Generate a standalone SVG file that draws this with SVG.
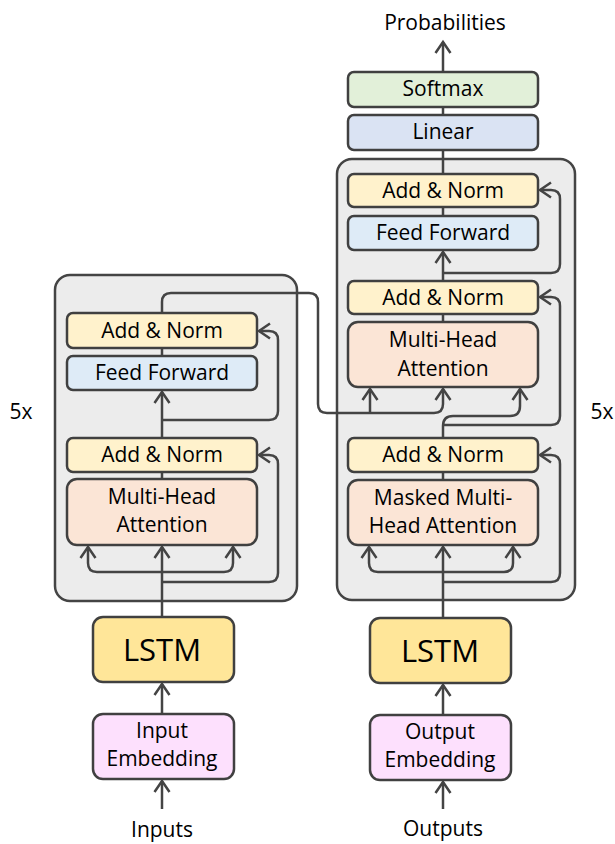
<svg xmlns="http://www.w3.org/2000/svg" width="615" height="844" viewBox="0 0 615 844">
<defs>
<style>
text{font-family:"Open Sans","Liberation Sans",sans-serif;font-size:21px;fill:#000;text-anchor:middle}
.big{font-size:31px}
.stack{fill:#ececec;stroke:#444;stroke-width:2.5}
.n{stroke:#404040;stroke-width:2.5}
.an{fill:#fff2cc}
.ff{fill:#deebf7}
.mha{fill:#fbe5d6}
.sm{fill:#e2f0d9}
.lin{fill:#dae3f3}
.lstm{fill:#ffe699}
.emb{fill:#fde0fd}
.c{fill:none;stroke:#444;stroke-width:2.5}
.a{marker-end:url(#ah)}
</style>
<marker id="ah" markerUnits="userSpaceOnUse" markerWidth="20" markerHeight="20" viewBox="-13 -10 15 20" refX="0" refY="0" orient="auto">
<path d="M-11,-7.5 L0,0 L-11,7.5" fill="none" stroke="#444" stroke-width="2.5" stroke-linejoin="miter"/>
</marker>
</defs>

<g id="encoder-stack"><rect class="stack" x="55" y="275" width="242" height="326" rx="15"/></g>
<g id="decoder-stack"><rect class="stack" x="337" y="159" width="238" height="441" rx="15"/></g>

<g id="connectors">
<!-- encoder -->
<path class="c a" d="M162,809 V781"/>
<path class="c a" d="M162,714 V684"/>
<path class="c a" d="M162,617 V547"/>
<path class="c a" d="M162,572 H97 Q88,572 88,563 V547"/>
<path class="c a" d="M162,572 H224 Q233,572 233,563 V547"/>
<path class="c a" d="M162,582 H269 Q278,582 278,573 V464 Q278,455 269,455 H259"/>
<path class="c" d="M162,479 V472"/>
<path class="c a" d="M162,438 V392"/>
<path class="c a" d="M162,420 H269 Q278,420 278,411 V340 Q278,331 269,331 H259"/>
<path class="c" d="M162,356 V348"/>
<path class="c a" d="M162,313 V302 Q162,293 171,293 H309 Q318,293 318,302 V404 Q318,413 327,413 H434 Q443,413 443,404 V389"/>
<path class="c a" d="M370,413 V389"/>
<!-- decoder -->
<path class="c a" d="M443,809 V782"/>
<path class="c a" d="M443,715 V685"/>
<path class="c a" d="M443,618 V547"/>
<path class="c a" d="M443,572 H378 Q369,572 369,563 V547"/>
<path class="c a" d="M443,572 H504 Q513,572 513,563 V547"/>
<path class="c a" d="M443,582 H551 Q560,582 560,573 V464 Q560,455 551,455 H540"/>
<path class="c" d="M443,480 V472"/>
<path class="c a" d="M443,438 V426 Q443,416 453,416 H510 Q520,416 520,406 V389"/>
<path class="c a" d="M443,425 H551 Q560,425 560,416 V306 Q560,297 551,297 H540"/>
<path class="c" d="M443,322 V314"/>
<path class="c a" d="M443,281 V252"/>
<path class="c a" d="M443,273 H551 Q560,273 560,264 V199 Q560,190 551,190 H540"/>
<path class="c" d="M443,216 V207"/>
<path class="c" d="M443,174 V150"/>
<path class="c" d="M443,115 V107"/>
<path class="c a" d="M443,72 V42"/>
</g>

<g id="enc-addnorm2"><rect class="n an" x="67" y="313" width="190" height="35" rx="6"/><text x="162" y="338">Add &amp; Norm</text></g>
<g id="enc-ff"><rect class="n ff" x="67" y="356" width="190" height="34" rx="6"/><text x="162" y="380">Feed Forward</text></g>
<g id="enc-addnorm1"><rect class="n an" x="67" y="438" width="190" height="34" rx="6"/><text x="162" y="462">Add &amp; Norm</text></g>
<g id="enc-mha"><rect class="n mha" x="67" y="479" width="190" height="66" rx="10"/><text x="162" y="504">Multi-Head</text><text x="162" y="532">Attention</text></g>
<g id="enc-lstm"><rect class="n lstm" x="93" y="617" width="141" height="65" rx="10"/><text class="big" x="162" y="661">LSTM</text></g>
<g id="enc-emb"><rect class="n emb" x="93" y="714" width="141" height="65" rx="10"/><text x="162" y="738">Input</text><text x="162" y="766">Embedding</text></g>
<g id="inputs"><text x="162" y="837">Inputs</text></g>

<g id="dec-addnorm3"><rect class="n an" x="348" y="174" width="190" height="33" rx="6"/><text x="443" y="198">Add &amp; Norm</text></g>
<g id="dec-ff"><rect class="n ff" x="348" y="216" width="190" height="34" rx="6"/><text x="443" y="240">Feed Forward</text></g>
<g id="dec-addnorm2"><rect class="n an" x="348" y="281" width="190" height="33" rx="6"/><text x="443" y="305">Add &amp; Norm</text></g>
<g id="dec-mha"><rect class="n mha" x="348" y="322" width="190" height="65" rx="10"/><text x="443" y="347">Multi-Head</text><text x="443" y="376">Attention</text></g>
<g id="dec-addnorm1"><rect class="n an" x="348" y="438" width="190" height="34" rx="6"/><text x="443" y="462">Add &amp; Norm</text></g>
<g id="dec-mmha"><rect class="n mha" x="348" y="480" width="190" height="65" rx="10"/><text x="443" y="505">Masked Multi-</text><text x="443" y="533">Head Attention</text></g>
<g id="dec-lstm"><rect class="n lstm" x="370" y="618" width="141" height="65" rx="10"/><text class="big" x="440" y="662">LSTM</text></g>
<g id="dec-emb"><rect class="n emb" x="370" y="715" width="141" height="65" rx="10"/><text x="440" y="739">Output</text><text x="440" y="767">Embedding</text></g>
<g id="outputs"><text x="443" y="836">Outputs</text></g>

<g id="linear"><rect class="n lin" x="348" y="115" width="190" height="35" rx="6"/><text x="443" y="139">Linear</text></g>
<g id="softmax"><rect class="n sm" x="348" y="72" width="190" height="35" rx="6"/><text x="443" y="96">Softmax</text></g>
<g id="probabilities"><text x="445" y="30">Probabilities</text></g>

<g id="n-left"><text x="21" y="419">5x</text></g>
<g id="n-right"><text x="602" y="419">5x</text></g>
</svg>
